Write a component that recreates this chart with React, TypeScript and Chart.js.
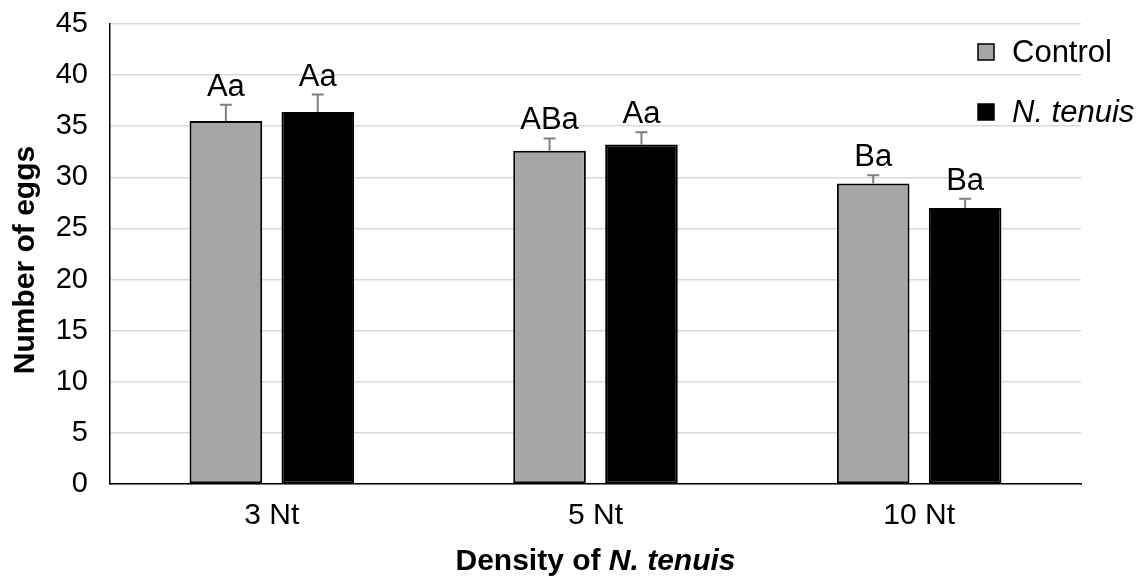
import React, { useEffect, useRef } from "react";
import { Chart, registerables } from "chart.js";

Chart.register(...registerables);

const categories = ["3 Nt", "5 Nt", "10 Nt"];
const controlValues = [35.5, 32.6, 29.4];
const tenuisValues = [36.4, 33.2, 27.0];
const controlErrors = [1.6, 1.2, 0.8];
const tenuisErrors = [1.7, 1.2, 0.9];
const controlLetters = ["Aa", "ABa", "Ba"];
const tenuisLetters = ["Aa", "Aa", "Ba"];
const seriesNames = ["Control", "N. tenuis"];
const yMin = 0;
const yMax = 45;
const yStep = 5;
const yTitle = "Number of eggs";
const xTitlePlain = "Density of ";
const xTitleItalic = "N. tenuis";

const FONT = "'Liberation Sans', Arial, sans-serif";
const CONTROL_COLOR = "#a6a6a6";
const TENUIS_COLOR = "#000000";

const errorsByDataset = [controlErrors, tenuisErrors];
const lettersByDataset = [controlLetters, tenuisLetters];

const overlayPlugin = {
  id: "overlay",
  afterDatasetsDraw(chart: any) {
    const ctx = chart.ctx;
    const yScale = chart.scales.y;
    ctx.save();
    chart.data.datasets.forEach((ds: any, di: number) => {
      const meta = chart.getDatasetMeta(di);
      meta.data.forEach((bar: any, i: number) => {
        const v = ds.data[i];
        const err = errorsByDataset[di][i];
        const topPx = yScale.getPixelForValue(v + err);
        const x = bar.x;
        ctx.strokeStyle = "#7f7f7f";
        ctx.lineWidth = 2;
        ctx.beginPath();
        ctx.moveTo(x, bar.y);
        ctx.lineTo(x, topPx);
        ctx.moveTo(x - 6, topPx);
        ctx.lineTo(x + 6, topPx);
        ctx.stroke();
        ctx.fillStyle = "#000";
        ctx.font = `31px ${FONT}`;
        ctx.textAlign = "center";
        ctx.textBaseline = "alphabetic";
        ctx.fillText(lettersByDataset[di][i], x, topPx - 9);
      });
    });

    // legend
    const colors = [CONTROL_COLOR, TENUIS_COLOR];
    const legendY = [52, 112];
    seriesNames.forEach((name, i) => {
      ctx.fillStyle = colors[i];
      ctx.fillRect(978, legendY[i] - 8, 16, 16);
      ctx.strokeStyle = "#000";
      ctx.lineWidth = 1.5;
      ctx.strokeRect(978, legendY[i] - 8, 16, 16);
      ctx.fillStyle = "#000";
      ctx.font = `${i === 1 ? "italic " : ""}31px ${FONT}`;
      ctx.textAlign = "left";
      ctx.textBaseline = "middle";
      ctx.fillText(name, 1012, legendY[i] + 1);
    });

    // x title
    const area = chart.chartArea;
    const cx = (area.left + area.right) / 2;
    ctx.font = `bold 30px ${FONT}`;
    const w1 = ctx.measureText(xTitlePlain).width;
    ctx.font = `italic bold 30px ${FONT}`;
    const w2 = ctx.measureText(xTitleItalic).width;
    const startX = cx - (w1 + w2) / 2;
    ctx.textAlign = "left";
    ctx.textBaseline = "middle";
    ctx.font = `bold 30px ${FONT}`;
    ctx.fillText(xTitlePlain, startX, 562);
    ctx.font = `italic bold 30px ${FONT}`;
    ctx.fillText(xTitleItalic, startX + w1, 562);

    // y title
    ctx.translate(26, (area.top + area.bottom) / 2 + 6);
    ctx.rotate(-Math.PI / 2);
    ctx.font = `bold 30px ${FONT}`;
    ctx.textAlign = "center";
    ctx.textBaseline = "middle";
    ctx.fillText(yTitle, 0, 0);
    ctx.restore();
  },
};

export default function App() {
  const canvasRef = useRef<HTMLCanvasElement | null>(null);

  useEffect(() => {
    document.body.style.margin = "0";
    const canvas = canvasRef.current;
    if (!canvas) return;
    const chart = new Chart(canvas, {
      type: "bar",
      data: {
        labels: categories,
        datasets: [
          {
            label: seriesNames[0],
            data: controlValues,
            backgroundColor: CONTROL_COLOR,
            borderColor: "#000",
            borderWidth: 2,
            borderSkipped: false,
            categoryPercentage: 0.568,
            barPercentage: 0.79,
          },
          {
            label: seriesNames[1],
            data: tenuisValues,
            backgroundColor: TENUIS_COLOR,
            borderColor: "#000",
            borderWidth: 2,
            borderSkipped: false,
            categoryPercentage: 0.568,
            barPercentage: 0.79,
          },
        ],
      },
      options: {
        responsive: false,
        animation: false,
        devicePixelRatio: 1,
        layout: { padding: { left: 0, right: 60, top: 24, bottom: 0 } },
        plugins: {
          legend: { display: false },
          tooltip: { enabled: false },
        },
        scales: {
          x: {
            grid: { display: false, drawTicks: false },
            border: { display: true, color: "#000", width: 1.5 },
            ticks: {
              color: "#000",
              font: { family: FONT, size: 30 },
              padding: 14,
            },
            afterFit: (scale: any) => {
              scale.height = 95;
              scale.paddingLeft = 0;
              scale.paddingRight = 0;
            },
          },
          y: {
            min: yMin,
            max: yMax,
            grid: { color: "#d9d9d9", lineWidth: 1.5, drawTicks: false },
            border: { display: true, color: "#000", width: 1.5 },
            ticks: {
              stepSize: yStep,
              color: "#000",
              font: { family: FONT, size: 29 },
              padding: 22,
            },
            afterFit: (scale: any) => {
              scale.width = 110;
              scale.paddingTop = 0;
              scale.paddingBottom = 0;
            },
          },
        },
      },
      plugins: [overlayPlugin],
    });
    return () => chart.destroy();
  }, []);

  return (
    <div style={{ width: 1141, height: 579 }}>
      <canvas ref={canvasRef} width={1141} height={579} />
    </div>
  );
}
